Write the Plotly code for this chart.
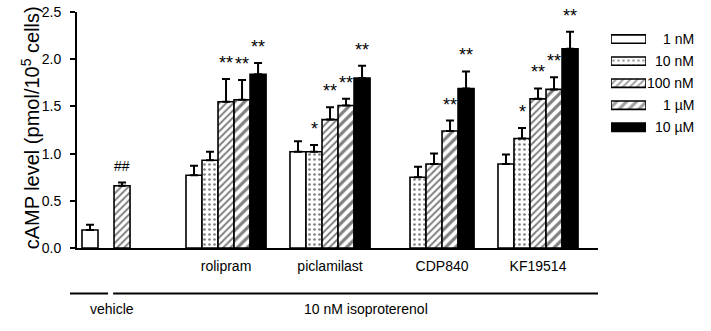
import plotly.graph_objects as go

# ---------------- data ----------------
groups = ["", "rolipram", "piclamilast", "CDP840", "KF19514"]
concs = ["1 nM", "10 nM", "100 nM", "1 \u00b5M", "10 \u00b5M"]

# values per concentration (one list per concentration, across groups)
val_1nM = [0.19, 0.77, 1.02, None, 0.89]
val_10nM = [None, 0.93, 1.02, 0.75, 1.16]
val_100nM = [0.66, 1.55, 1.36, 0.89, 1.58]
val_1uM = [None, 1.57, 1.51, 1.24, 1.68]
val_10uM = [None, 1.84, 1.80, 1.69, 2.11]

err_1nM = [0.055, 0.10, 0.11, None, 0.10]
err_10nM = [None, 0.09, 0.07, 0.11, 0.11]
err_100nM = [0.035, 0.24, 0.13, 0.11, 0.11]
err_1uM = [None, 0.21, 0.07, 0.11, 0.13]
err_10uM = [None, 0.12, 0.13, 0.18, 0.18]

sig_1nM = ["", "", "", "", ""]
sig_10nM = ["", "", "*", "", "*"]
sig_100nM = ["##", "**", "**", "", "**"]
sig_1uM = ["", "**", "**", "**", "**"]
sig_10uM = ["", "**", "**", "**", "**"]

yticks = [0.0, 0.5, 1.0, 1.5, 2.0, 2.5]

values = [val_1nM, val_10nM, val_100nM, val_1uM, val_10uM]
errors = [err_1nM, err_10nM, err_100nM, err_1uM, err_10uM]
sigs = [sig_1nM, sig_10nM, sig_100nM, sig_1uM, sig_10uM]

# ---------------- styles ----------------
FONT = "Liberation Sans, Arial, Helvetica, sans-serif"
styles = [
    dict(color="white", pattern=dict(shape="")),
    dict(color="white", pattern=dict(shape=".", fgcolor="black", bgcolor="white", size=5, solidity=0.22)),
    dict(color="white", pattern=dict(shape="/", fgcolor="black", bgcolor="white", size=5, solidity=0.4)),
    dict(color="white", pattern=dict(shape="/", fgcolor="black", bgcolor="white", size=7, solidity=0.45)),
    dict(color="black", pattern=dict(shape="")),
]
BARGAP = 0.23
NS = len(concs)
slot_w = (1 - BARGAP) / NS

xpos = list(range(len(groups)))

fig = go.Figure()
for i, c in enumerate(concs):
    fig.add_trace(go.Bar(
        x=xpos, y=values[i], name=c,
        marker=dict(color=styles[i]["color"], pattern=styles[i]["pattern"],
                    line=dict(color="black", width=1.6)),
        error_y=dict(type="data", symmetric=False, array=errors[i],
                     arrayminus=[0 if v is not None else None for v in values[i]],
                     color="black", thickness=2, width=4),
        showlegend=False,
    ))

# significance marks
for i in range(NS):
    for g in range(len(groups)):
        s = sigs[i][g]
        if s and values[i][g] is not None:
            star = "*" in s
            fig.add_annotation(
                x=g + (i - (NS - 1) / 2) * slot_w, y=values[i][g] + errors[i][g],
                xref="x", yref="y", text=s, showarrow=False,
                yanchor="bottom", yshift=4 if star else 6,
                font=dict(family=FONT, size=18 if star else 14, color="black"),
            )

# tick positions: centre of present bars in each group
tickvals, ticktext = [], []
for g in range(1, len(groups)):
    offs = [(i - (NS - 1) / 2) * slot_w for i in range(NS) if values[i][g] is not None]
    tickvals.append(g + sum(offs) / len(offs))
    ticktext.append(groups[g])

# legend drawn as a small bar subplot
fig.add_trace(go.Bar(
    y=concs, x=[1] * NS, orientation="h", width=0.38,
    xaxis="x2", yaxis="y2", showlegend=False, hoverinfo="skip",
    marker=dict(
        color=[s["color"] for s in styles],
        pattern=dict(shape=[s["pattern"].get("shape", "") for s in styles],
                     fgcolor="black", bgcolor="white",
                     size=[s["pattern"].get("size", 5) for s in styles],
                     solidity=[s["pattern"].get("solidity", 0.3) for s in styles]),
        line=dict(color="black", width=1.6),
    ),
))
for c in concs:
    fig.add_annotation(x=0.9763, xref="paper", y=c, yref="y2", text=c,
                       xanchor="right", showarrow=False,
                       font=dict(family=FONT, size=14, color="black"))

# y-axis title
fig.add_annotation(x=-0.073, y=0.51, xref="paper", yref="paper", textangle=-90,
                   text="cAMP level (pmol/10<sup>5</sup> cells)", showarrow=False,
                   xanchor="center", yanchor="middle",
                   font=dict(family=FONT, size=20, color="black"))

# bottom grouping lines and labels
line = dict(color="black", width=2)
fig.add_shape(type="line", xref="paper", yref="paper", x0=-0.011, x1=0.049, y0=-0.193, y1=-0.193, line=line)
fig.add_shape(type="line", xref="paper", yref="paper", x0=0.057, x1=0.8218, y0=-0.193, y1=-0.193, line=line)
fig.add_annotation(x=0.0174, y=-0.299, xref="paper", yref="paper", text="vehicle",
                   showarrow=False, font=dict(family=FONT, size=14, color="black"))
fig.add_annotation(x=0.4558, y=-0.299, xref="paper", yref="paper", text="10 nM isoproterenol",
                   showarrow=False, font=dict(family=FONT, size=14, color="black"))

fig.update_layout(
    width=711, height=331,
    margin=dict(l=77, r=0, t=12, b=83),
    paper_bgcolor="white", plot_bgcolor="white",
    barmode="group", bargap=BARGAP, bargroupgap=0,
    font=dict(family=FONT, size=14, color="black"),
    xaxis=dict(domain=[0, 0.8218], range=[-0.433, 4.577], showline=True, linecolor="black",
               linewidth=2, ticks="", tickvals=tickvals, ticktext=ticktext,
               ticklabelstandoff=4, showgrid=False, zeroline=False,
               tickfont=dict(family=FONT, size=14)),
    yaxis=dict(range=[0, 2.5], tickvals=yticks, tickformat=".1f", showline=True,
               linecolor="black", linewidth=2, ticks="outside", ticklen=5, tickwidth=2,
               tickcolor="black", showgrid=False, zeroline=False, ticklabelstandoff=6,
               tickfont=dict(family=FONT, size=14), ticklabeloverflow="allow"),
    xaxis2=dict(domain=[0.8423, 0.8975], range=[0, 1], visible=False, fixedrange=True),
    yaxis2=dict(domain=[0.465, 0.932], autorange="reversed", visible=False,
                anchor="x2", fixedrange=True),
)

# remove the default 8px page margin so the figure sits at the window origin
fig.write_html("out.html", config={"displayModeBar": False},
               post_script="document.body.style.margin='0';")
